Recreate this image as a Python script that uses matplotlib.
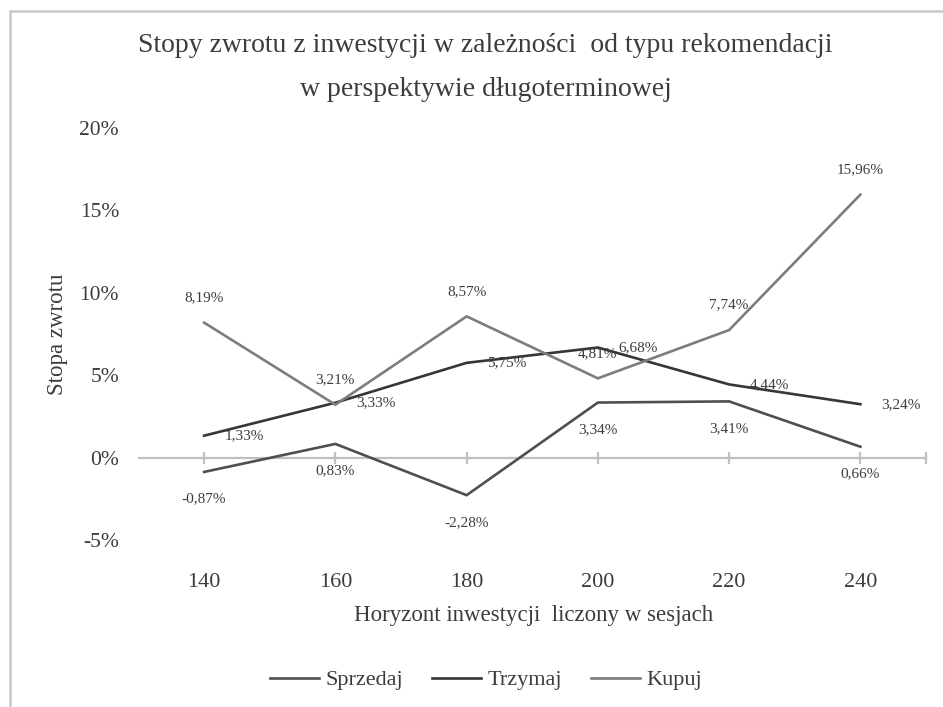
import matplotlib
matplotlib.use("Agg")
import matplotlib.pyplot as plt
from matplotlib.patches import Rectangle

# ---- data ----
categories = ["140", "160", "180", "200", "220", "240"]
sprzedaj = [-0.87, 0.83, -2.28, 3.34, 3.41, 0.66]
trzymaj = [1.33, 3.33, 5.75, 6.68, 4.44, 3.24]
kupuj = [8.19, 3.21, 8.57, 4.81, 7.74, 15.96]
series_names = ["Sprzedaj", "Trzymaj", "Kupuj"]
y_ticks = [-5, 0, 5, 10, 15, 20]
y_tick_labels = ["-5%", "0%", "5%", "10%", "15%", "20%"]
title_line1 = "Stopy zwrotu z inwestycji w zależności  od typu rekomendacji"
title_line2 = "w perspektywie długoterminowej"
x_label = "Horyzont inwestycji  liczony w sesjach"
y_label = "Stopa zwrotu"

plt.rcParams["font.family"] = ["Liberation Serif", "DejaVu Serif"]
TXT = "#3c3c3c"
colors = {"Sprzedaj": "#4f4f4f", "Trzymaj": "#363636", "Kupuj": "#7d7d7d"}

fig = plt.figure(figsize=(9.43, 7.07), dpi=100)
W, H = 943, 707
ax = fig.add_axes([138.5 / W, 1 - 540 / H, (926 - 138.5) / W, (540 - 128) / H])

# outer chart border
fig.patches.append(Rectangle((10 / W, -0.2), 1.2, 1 - 11 / H + 0.2, transform=fig.transFigure,
                             fill=False, edgecolor="#c8c8c8", linewidth=1.8))

x = list(range(len(categories)))
data = {"Sprzedaj": sprzedaj, "Trzymaj": trzymaj, "Kupuj": kupuj}
handles = []
for name in series_names:
    h, = ax.plot(x, data[name], color=colors[name], linewidth=1.9, solid_joinstyle="miter",
                 label=name, zorder=3)
    handles.append(h)

def fmt(v):
    return f"{v:.2f}".replace(".", ",") + "%"

lab_kw = dict(fontsize=11, color=TXT, textcoords="offset points", zorder=4)
for xi, v in zip(x, kupuj):
    ax.annotate(fmt(v), (xi, v), xytext=(0, 18), ha="center", va="center", **lab_kw)
for xi, v in zip(x, trzymaj):
    ax.annotate(fmt(v), (xi, v), xytext=(15, 0), ha="left", va="center", **lab_kw)
for xi, v in zip(x, sprzedaj):
    ax.annotate(fmt(v), (xi, v), xytext=(0, -19.5), ha="center", va="center", **lab_kw)

ax.set_xlim(-0.5, len(categories) - 0.5)
ax.set_ylim(y_ticks[0], y_ticks[-1])
ax.set_yticks(y_ticks)
ax.set_yticklabels(y_tick_labels)
ax.tick_params(axis="y", length=0, pad=14, labelsize=15.5, colors=TXT)

for s in ["top", "right", "left"]:
    ax.spines[s].set_visible(False)
ax.spines["bottom"].set_position(("data", 0))
ax.spines["bottom"].set_color("#c0c0c0")
ax.spines["bottom"].set_linewidth(1.6)
ax.spines["bottom"].set_zorder(1)
ax.set_xticks(x + [len(categories) - 0.5])
ax.tick_params(axis="x", direction="inout", length=9, width=1.6, color="#c0c0c0",
               labelbottom=False)

sec = ax.secondary_xaxis(0.0)
sec.set_xticks(x)
sec.set_xticklabels(categories)
sec.spines["bottom"].set_visible(False)
sec.tick_params(axis="x", length=0, pad=24, labelsize=16, colors=TXT)

fig.text(485 / W, 1 - 46 / H, title_line1, ha="center", va="center", fontsize=20, color=TXT)
fig.text(486 / W, 1 - 89 / H, title_line2, ha="center", va="center", fontsize=20, color=TXT)
fig.text(533.5 / W, 1 - 615 / H, x_label, ha="center", va="center", fontsize=16.5, color=TXT)
fig.text(58 / W, 1 - 334 / H, y_label, ha="center", va="center", rotation=90, fontsize=16.5,
         color=TXT)

fig.legend(handles=handles, labels=series_names, loc="center", ncol=3, frameon=False,
           bbox_to_anchor=(486 / W, 1 - 680 / H), fontsize=16, handlelength=2.2,
           handletextpad=0.3, columnspacing=1.3, labelcolor=TXT)

fig.savefig("out.png", dpi=100)
